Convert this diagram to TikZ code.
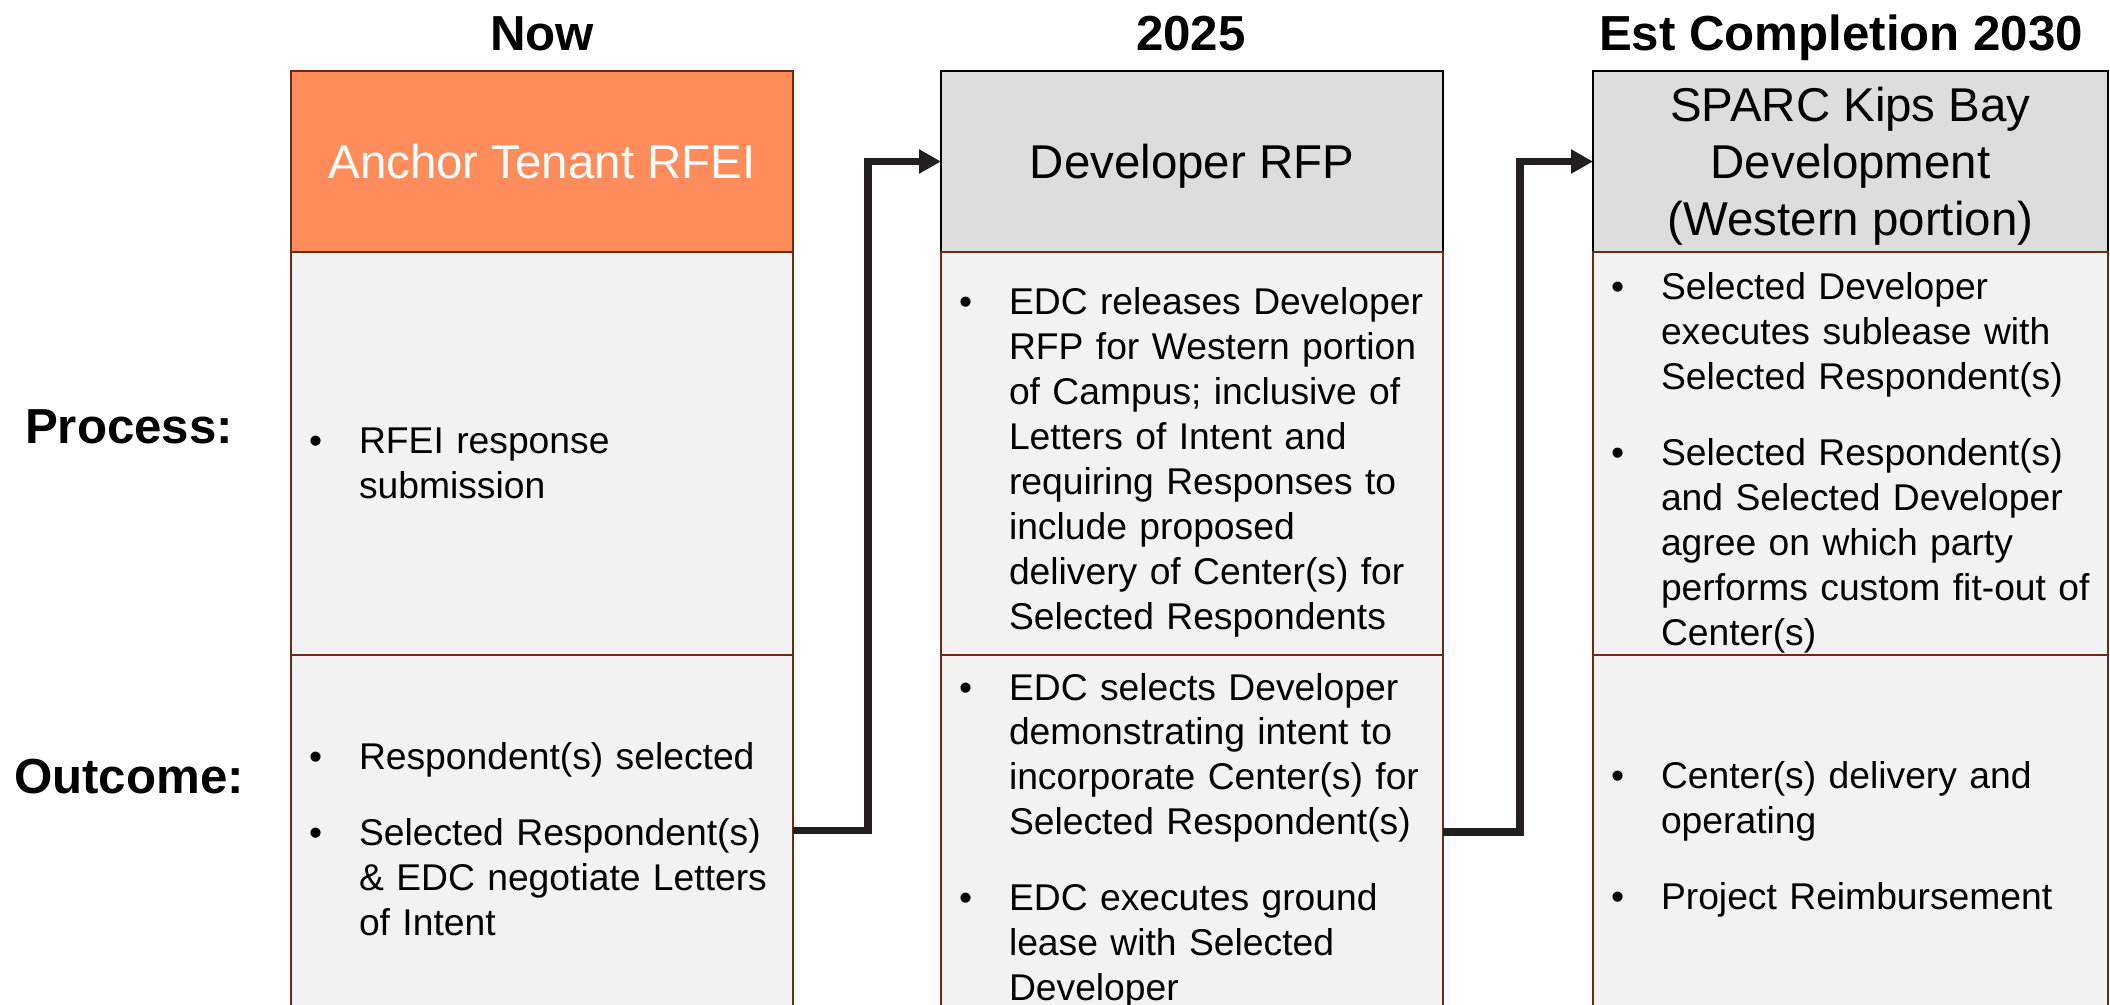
\documentclass[tikz,border=0pt]{standalone}
\usepackage{fontspec}
\setmainfont{Liberation Sans}
\usepackage{xcolor}
\usepackage{tikz}
\usetikzlibrary{positioning,arrows.meta}
\definecolor{tangerine}{HTML}{FF8C5A}
\definecolor{rust}{HTML}{6E2A12}
\definecolor{headgray}{HTML}{DDDDDD}
\definecolor{cellgray}{HTML}{F2F2F2}
\definecolor{arrowink}{HTML}{231F20}
\newcommand{\bitem}[1]{\par\hangindent=0.5cm\hangafter=1\noindent\makebox[0.5cm][l]{\textbullet}#1\par}
\newcommand{\bgap}{\vspace{0.31cm}}

\begin{document}
\begin{tikzpicture}[
  hd/.style={draw=black, line width=0.7pt, minimum width=5.02cm, minimum height=1.81cm, inner sep=0pt, outer sep=0pt, align=center, text depth=0pt, font=\fontsize{13.5}{16.3}\selectfont},
  cell/.style={draw=rust, fill=cellgray, line width=0.7pt, inner xsep=0.18cm, inner ysep=0pt, outer sep=0pt, text width=#1, font=\fontsize{10.6}{12.8}\selectfont},
  cell/.default=4.66cm,
  lab/.style={anchor=base, font=\fontsize{14}{16.8}\selectfont\bfseries},
  flow/.style={draw=arrowink, line width=2.1pt, -{Triangle[length=0.22cm, width=0.23cm]}}
]
\useasboundingbox (0,0) rectangle (21.10,-10.04);
%\draw[help lines](0,0)grid(21,-10);

% column titles and row labels
\node[lab] (now) at (5.42,-0.50) {Now};
\node[lab] (yr) at (11.91,-0.50) {2025};
\node[lab] (est) at (18.41,-0.50) {Est Completion 2030};
\node[lab] (process) at (1.29,-4.43) {Process:};
\node[lab] (outcome) at (1.29,-7.93) {Outcome:};

% headers
\node[hd, fill=tangerine, draw=rust, text=white, anchor=north west] (hd1) at (2.91,-0.71) {Anchor Tenant RFEI};
\node[hd, fill=headgray, anchor=north west] (hd2) at (9.41,-0.71) {Developer RFP};
\node[hd, fill=headgray, minimum width=5.15cm, anchor=north west] (hd3) at (15.93,-0.71) {SPARC Kips Bay\\Development\\(Western portion)};

% process row
\node[cell, minimum height=4.03cm, below=0pt of hd1] (pr1) {\bitem{RFEI response\newline submission}};
\node[cell, minimum height=4.03cm, below=0pt of hd2] (pr2) {\bitem{EDC releases Developer\newline RFP for Western portion\newline of Campus; inclusive of\newline Letters of Intent and\newline requiring Responses to\newline include proposed\newline delivery of Center(s) for\newline Selected Respondents}};
\node[cell=4.79cm, minimum height=4.03cm, below=0pt of hd3] (pr3) {\bitem{Selected Developer\newline executes sublease with\newline Selected Respondent(s)}\bgap
  \bitem{Selected Respondent(s)\newline and Selected Developer\newline agree on which party\newline performs custom fit-out of\newline Center(s)}};

% outcome row
\node[cell, minimum height=3.51cm, below=0pt of pr1] (oc1) {\bitem{Respondent(s) selected}\bgap
  \bitem{Selected Respondent(s)\newline \& EDC negotiate Letters\newline of Intent}};
\node[cell, minimum height=3.51cm, below=0pt of pr2] (oc2) {\bitem{EDC selects Developer\newline demonstrating intent to\newline incorporate Center(s) for\newline Selected Respondent(s)}\bgap
  \bitem{EDC executes ground\newline lease with Selected\newline Developer}};
\node[cell=4.79cm, minimum height=3.51cm, below=0pt of pr3] (oc3) {\bitem{Center(s) delivery and\newline operating}\bgap
  \bitem{Project Reimbursement}};

% connectors
\draw[flow] (oc1.east) -- ++(0.75,0) |- (hd2.west);
\draw[flow] (oc2.east) -- ++(0.77,0) |- (hd3.west);
\end{tikzpicture}
\end{document}
